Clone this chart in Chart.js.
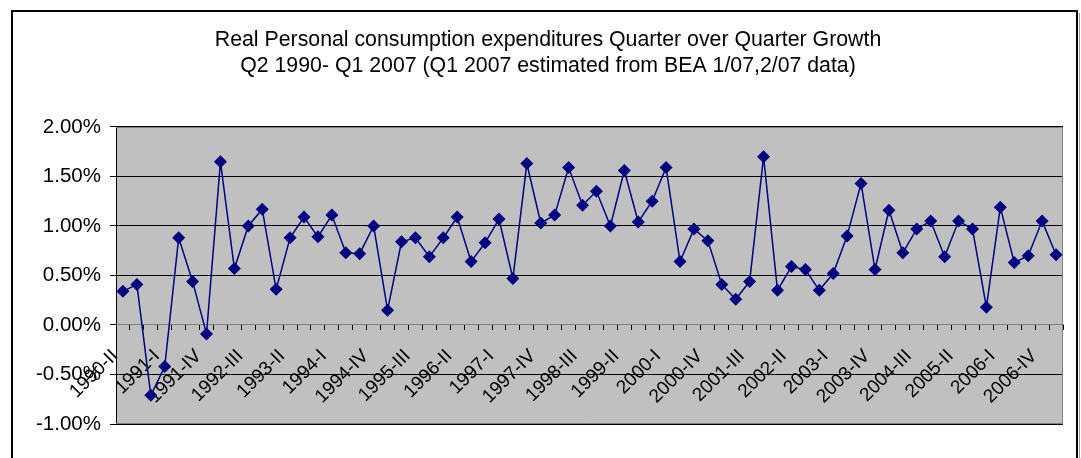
<!DOCTYPE html>
<html>
<head>
<meta charset="utf-8">
<script src="https://cdn.jsdelivr.net/npm/chart.js@4"></script>
<style>
  html, body { margin: 0; padding: 0; background: #fff; overflow: hidden; }
  canvas { display: block; }
</style>
</head>
<body>
<canvas id="pceChart" width="1081" height="458"></canvas>
<script>
const quarters = [
  '1990-II', '1990-III', '1990-IV',
  '1991-I', '1991-II', '1991-III', '1991-IV',
  '1992-I', '1992-II', '1992-III', '1992-IV',
  '1993-I', '1993-II', '1993-III', '1993-IV',
  '1994-I', '1994-II', '1994-III', '1994-IV',
  '1995-I', '1995-II', '1995-III', '1995-IV',
  '1996-I', '1996-II', '1996-III', '1996-IV',
  '1997-I', '1997-II', '1997-III', '1997-IV',
  '1998-I', '1998-II', '1998-III', '1998-IV',
  '1999-I', '1999-II', '1999-III', '1999-IV',
  '2000-I', '2000-II', '2000-III', '2000-IV',
  '2001-I', '2001-II', '2001-III', '2001-IV',
  '2002-I', '2002-II', '2002-III', '2002-IV',
  '2003-I', '2003-II', '2003-III', '2003-IV',
  '2004-I', '2004-II', '2004-III', '2004-IV',
  '2005-I', '2005-II', '2005-III', '2005-IV',
  '2006-I', '2006-II', '2006-III', '2006-IV',
  '2007-I'
];

// quarter over quarter growth, percent
const growth = [
  0.34, 0.41, -0.71,
  -0.42, 0.88, 0.44, -0.09,
  1.65, 0.57, 1.00, 1.17,
  0.36, 0.88, 1.09, 0.89,
  1.11, 0.73, 0.72, 1.00,
  0.15, 0.84, 0.88, 0.69,
  0.88, 1.09, 0.64, 0.83,
  1.07, 0.47, 1.63, 1.03,
  1.11, 1.59, 1.21, 1.35,
  1.00, 1.56, 1.04, 1.25,
  1.59, 0.64, 0.97, 0.85,
  0.41, 0.26, 0.44, 1.70,
  0.35, 0.59, 0.56, 0.35,
  0.52, 0.90, 1.43, 0.56,
  1.16, 0.73, 0.97, 1.05,
  0.69, 1.05, 0.97, 0.18,
  1.19, 0.63, 0.70, 1.05,
  0.71
];

const titleLines = [
  'Real Personal consumption expenditures Quarter over Quarter Growth',
  'Q2 1990- Q1 2007 (Q1 2007 estimated from BEA 1/07,2/07 data)'
];

const yMin = -1, yMax = 2, yStep = 0.5;
const labelEvery = 3;

const FONT = '"Liberation Sans", Arial, sans-serif';

// white page, outer frame and grey plot area like the old Excel chart
const excelFrame = {
  id: 'excelFrame',
  beforeDraw(chart) {
    const ctx = chart.ctx;
    const a = chart.chartArea;
    ctx.save();
    ctx.fillStyle = '#fff';
    ctx.fillRect(0, 0, chart.width, chart.height);
    ctx.strokeStyle = '#000';
    ctx.lineWidth = 2;
    ctx.strokeRect(12, 11, 1065, chart.height + 20);
    ctx.strokeStyle = '#999';
    ctx.lineWidth = 1;
    ctx.beginPath();
    ctx.moveTo(1079.5, 13);
    ctx.lineTo(1079.5, chart.height);
    ctx.stroke();
    ctx.fillStyle = '#c0c0c0';
    ctx.fillRect(a.left, a.top, a.right - a.left, a.bottom - a.top);
    ctx.restore();
  },
  beforeDatasetsDraw(chart) {
    const ctx = chart.ctx;
    const a = chart.chartArea;
    ctx.save();
    ctx.strokeStyle = '#808080';
    ctx.lineWidth = 1;
    ctx.beginPath();
    ctx.moveTo(a.left, Math.round(a.top) + 0.5);
    ctx.lineTo(Math.round(a.right) - 0.5, Math.round(a.top) + 0.5);
    ctx.lineTo(Math.round(a.right) - 0.5, Math.round(a.bottom) - 0.5);
    ctx.lineTo(a.left, Math.round(a.bottom) - 0.5);
    ctx.stroke();
    ctx.restore();
  }
};

new Chart(document.getElementById('pceChart').getContext('2d'), {
  type: 'line',
  data: {
    labels: quarters,
    datasets: [{
      data: growth,
      borderColor: '#000080',
      borderWidth: 1.5,
      backgroundColor: '#000080',
      pointStyle: 'rectRot',
      pointRadius: 6.5,
      pointBorderWidth: 0,
      pointBackgroundColor: '#000080',
      tension: 0
    }]
  },
  options: {
    responsive: false,
    animation: false,
    layout: { padding: { left: 15, right: 0, top: 0, bottom: 34 } },
    plugins: {
      legend: { display: false },
      tooltip: { enabled: false },
      title: {
        display: true,
        text: titleLines,
        color: '#000',
        font: { family: FONT, size: 21.3, weight: 'normal', lineHeight: 1.22 },
        padding: { top: 27, bottom: 48 }
      }
    },
    scales: {
      x: {
        type: 'category',
        offset: true,
        position: { y: 0 },
        afterFit: s => {
          s.height = 0;
          s.paddingLeft = 0;
          s.paddingRight = 18;
        },
        grid: {
          offset: true,
          drawOnChartArea: false,
          drawTicks: true,
          tickLength: 5,
          color: '#000'
        },
        border: { display: true, color: '#808080', width: 1 },
        ticks: {
          autoSkip: false,
          minRotation: 45,
          maxRotation: 45,
          padding: 15,
          labelOffset: -8,
          color: '#000',
          font: { family: FONT, size: 19 },
          callback: (v, i) => (i % labelEvery === 0 ? quarters[i] : '')
        }
      },
      y: {
        min: yMin,
        max: yMax,
        afterFit: s => { s.width = 101; },
        grid: {
          color: '#000',
          lineWidth: 1,
          drawTicks: true,
          tickLength: 6
        },
        border: { display: true, color: '#000', width: 1 },
        ticks: {
          stepSize: yStep,
          padding: 9,
          color: '#000',
          font: { family: FONT, size: 20.5 },
          callback: v => v.toFixed(2) + '%'
        }
      }
    }
  },
  plugins: [excelFrame]
});
</script>
</body>
</html>
